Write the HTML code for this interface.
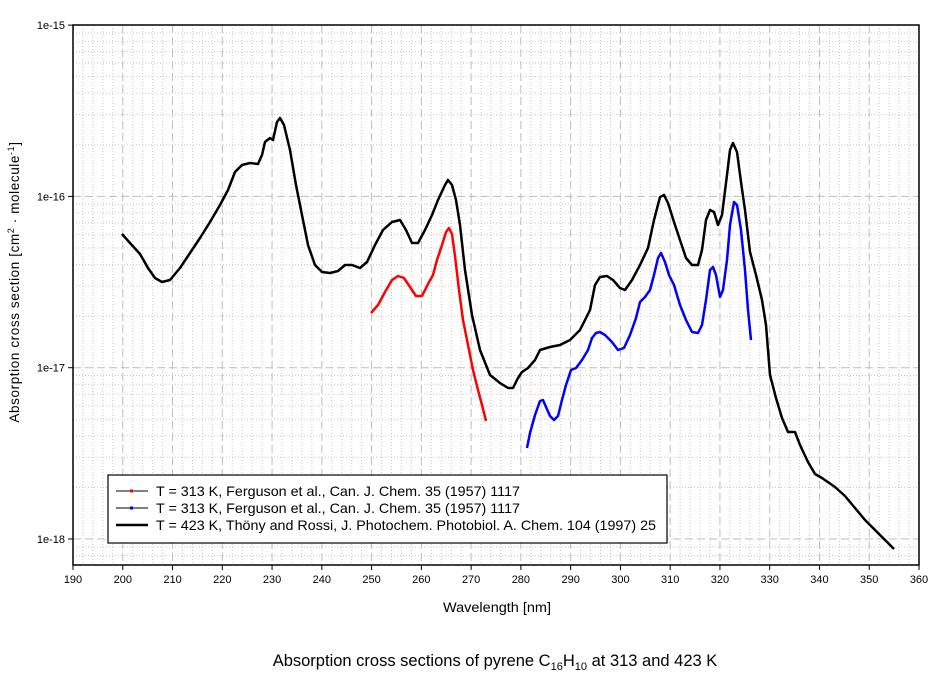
<!DOCTYPE html>
<html><head><meta charset="utf-8"><style>
html,body{margin:0;padding:0;background:#fff;width:944px;height:676px;overflow:hidden}
svg{display:block;font-family:"Liberation Sans",Arial,sans-serif}
</style></head><body>
<svg id="s" width="944" height="676" viewBox="0 0 944 676" xmlns="http://www.w3.org/2000/svg">
<g id="grid"></g>
<rect x="73" y="25" width="846" height="540" fill="none" stroke="#000" stroke-width="1.5"/>
<g id="ticks" font-size="11" fill="#000"></g>
<polyline fill="none" stroke="#000" stroke-width="2.5" stroke-linejoin="round" points="122,234 130,243 140,254 148,268 155,278 162,282 170,280 180,268 190,253 200,238 210,222 220,205 228,190 235,172 242,165 250,163 258,164 262,155 265,142 270,138 273,140 277,122 280,118 284,125 290,150 296,185 302,215 308,245 315,265 322,272 330,273 338,271 345,265 352,265 360,268 367,262 375,245 383,230 392,222 400,220 406,230 412,243 418,243 425,230 432,215 438,200 445,185 448,180 452,185 456,200 460,225 465,270 472,315 480,350 490,375 500,383 508,388 513,388 518,378 522,372 528,368 535,360 540,350 550,347 560,345 570,340 580,330 590,310 595,285 600,277 607,276 613,280 620,288 625,290 632,280 640,265 648,248 654,220 660,197 664,195 668,203 674,222 680,240 686,258 692,265 698,265 702,250 706,220 710,210 714,212 718,225 722,215 727,175 730,150 733,143 737,152 741,182 745,210 750,252 756,275 762,300 766,325 770,375 776,398 782,418 788,432 795,432 800,445 808,462 815,474 822,478 835,487 845,496 855,508 865,520 875,530 885,540 894,549"/>
<polyline fill="none" stroke="#ff0000" stroke-width="2.5" stroke-linejoin="round" points="371,313 378,305 385,292 392,280 398,276 404,278 410,287 416,296 422,296 428,284 433,275 437,260 442,245 446,232 449,228 452,234 455,256 459,290 463,320 468,345 473,370 478,390 482,405 486,421"/>
<polyline fill="none" stroke="#0000ff" stroke-width="2.5" stroke-linejoin="round" points="527,448 530,433 535,415 540,401 543,400 546,407 550,416 554,420 558,416 562,400 566,385 571,370 576,368 582,360 588,350 592,338 596,333 600,332 605,335 612,342 618,350 624,348 630,335 636,318 640,302 645,297 650,290 654,275 658,258 661,253 665,262 669,275 674,285 680,305 686,320 692,332 698,333 702,325 706,300 710,270 713,267 716,275 720,297 723,290 727,260 730,225 734,202 737,205 741,230 745,270 748,310 751,340"/>
<rect x="108" y="475" width="559" height="68" fill="#fff" stroke="#000" stroke-width="1.2"/>
<line x1="116" y1="491" x2="148" y2="491" stroke="#000" stroke-width="1"/><rect x="130" y="489.5" width="3" height="3" fill="#f00"/>
<line x1="116" y1="508" x2="148" y2="508" stroke="#000" stroke-width="1"/><rect x="130" y="506.5" width="3" height="3" fill="#00f"/>
<line x1="116" y1="525" x2="148" y2="525" stroke="#000" stroke-width="2.5"/>
<g font-size="14" fill="#000">
<text x="156" y="496" textLength="364" lengthAdjust="spacingAndGlyphs">T = 313 K, Ferguson et al., Can. J. Chem. 35 (1957) 1117</text>
<text x="156" y="513" textLength="364" lengthAdjust="spacingAndGlyphs">T = 313 K, Ferguson et al., Can. J. Chem. 35 (1957) 1117</text>
<text x="156" y="530" textLength="500" lengthAdjust="spacingAndGlyphs">T = 423 K, Thöny and Rossi, J. Photochem. Photobiol. A. Chem. 104 (1997) 25</text>
</g>
<text x="497" y="612" font-size="13.5" text-anchor="middle" textLength="108" lengthAdjust="spacingAndGlyphs">Wavelength [nm]</text>
<text transform="translate(19,282) rotate(-90)" font-size="13.5" text-anchor="middle" letter-spacing="0.6">Absorption cross section [cm<tspan font-size="9" dy="-5">2</tspan><tspan dy="5"> · molecule</tspan><tspan font-size="9" dy="-5">-1</tspan><tspan dy="5">]</tspan></text>
<text x="495" y="666" font-size="16.5" text-anchor="middle">Absorption cross sections of pyrene C<tspan font-size="11" dy="4">16</tspan><tspan dy="-4">H</tspan><tspan font-size="11" dy="4">10</tspan><tspan dy="-4"> at 313 and 423 K</tspan></text>
</svg>
<script>
var NS="http://www.w3.org/2000/svg",g=document.getElementById("grid"),t=document.getElementById("ticks");
function L(x1,y1,x2,y2,c,d,p){var l=document.createElementNS(NS,"line");l.setAttribute("x1",x1);l.setAttribute("y1",y1);l.setAttribute("x2",x2);l.setAttribute("y2",y2);l.setAttribute("stroke",c);if(d)l.setAttribute("stroke-dasharray",d);(p||g).appendChild(l);}
function T(x,y,s,a){var e=document.createElementNS(NS,"text");e.setAttribute("x",x);e.setAttribute("y",y);e.setAttribute("text-anchor",a);e.textContent=s;t.appendChild(e);}
var X=function(n){return 73+(n-190)*846/170;};
var Y0=539,D=171.3;
for(var n=192;n<360;n+=2){if(n%10)L(X(n),25,X(n),565,"#c8c8c8","1,2");}
for(var dec=0;dec<3;dec++){for(var k=2;k<10;k++){var y=Y0-D*dec-D*Math.log10(k);L(73,y,919,y,"#c8c8c8","1,2");}}
for(var k=5;k<10;k++){var y=Y0+D-D*Math.log10(k);if(y<565)L(73,y,919,y,"#c8c8c8","1,2");}
for(var n=200;n<360;n+=10)L(X(n),25,X(n),565,"#bdbdbd","8,4");
for(var d=0;d<3;d++){var y=Y0-D*d;L(73,y,919,y,"#bdbdbd","8,4");}
for(var n=190;n<=360;n+=10){L(X(n),565,X(n),570,"#000",null,t);T(X(n),583,""+n,"middle");}
var lab=["1e-18","1e-17","1e-16","1e-15"];
for(var d=0;d<4;d++){var y=Y0-D*d;L(68,y,73,y,"#000",null,t);T(65,y+4,lab[d],"end");}
</script>
</body></html>
